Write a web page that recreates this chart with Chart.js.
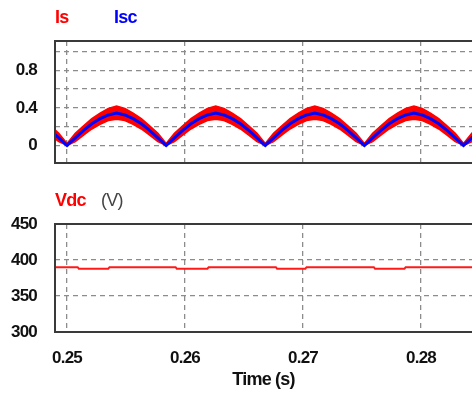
<!DOCTYPE html>
<html>
<head>
<meta charset="utf-8">
<script src="https://cdn.jsdelivr.net/npm/chart.js@4.4.1/dist/chart.umd.min.js"></script>
<style>
  html, body { margin: 0; padding: 0; background: #fff; }
  #wrap { position: relative; width: 472px; height: 395px; overflow: hidden; font-family: "Liberation Sans", Arial, sans-serif; }
  canvas { position: absolute; left: 0; }
  #currentChart { top: 0; }
  #voltageChart { top: 180px; }
  .lbl { position: absolute; font-size: 18px; line-height: 18px; font-weight: bold; letter-spacing: -0.8px; white-space: nowrap; }
</style>
</head>
<body>
<div id="wrap">
  <canvas id="currentChart" width="472" height="180"></canvas>
  <canvas id="voltageChart" width="472" height="215"></canvas>
  <span class="lbl" style="left:55px;top:8px;color:#ff0000">Is</span>
  <span class="lbl" style="left:114px;top:8px;color:#0000ff">Isc</span>
  <span class="lbl" style="left:55px;top:191px;color:#ff0000">Vdc</span>
  <span class="lbl" style="left:101px;top:191px;color:#444;font-weight:normal">(V)</span>
</div>
<script>
'use strict';

// temps (s), un point toutes les 0,7 ms
var timeValues = [
  0.2486, 0.2493, 0.2500, 0.2507, 0.2514, 0.2521, 0.2528, 0.2535, 0.2542, 0.2549, 0.2556, 0.2563, 0.2570, 0.2577, 0.2584,
  0.2591, 0.2598, 0.2605, 0.2612, 0.2619, 0.2626, 0.2633, 0.2640, 0.2647, 0.2654, 0.2661, 0.2668,
  0.2675, 0.2682, 0.2689, 0.2696, 0.2703, 0.2710, 0.2717, 0.2724, 0.2731, 0.2738, 0.2745, 0.2752,
  0.2759, 0.2766, 0.2773, 0.2780, 0.2787, 0.2794, 0.2801, 0.2808, 0.2815, 0.2822, 0.2829, 0.2836,
  0.2843, 0.2850
];

// Isc (courant moyen, bleu)
var iscValues = [
  0.16, 0.08, 0,
  0.08, 0.16, 0.23, 0.285, 0.325, 0.345, 0.325, 0.285, 0.23, 0.16, 0.08, 0,
  0.08, 0.16, 0.23, 0.285, 0.325, 0.345, 0.325, 0.285, 0.23, 0.16, 0.08, 0,
  0.08, 0.16, 0.23, 0.285, 0.325, 0.345, 0.325, 0.285, 0.23, 0.16, 0.08, 0,
  0.08, 0.16, 0.23, 0.285, 0.325, 0.345, 0.325, 0.285, 0.23, 0.16, 0.08, 0,
  0.08, 0.16
];

// Is : enveloppe haute / basse de l'ondulation (bande rouge)
var isHighValues = [
  0.21, 0.13, 0.02,
  0.13, 0.21, 0.285, 0.345, 0.395, 0.42, 0.395, 0.345, 0.285, 0.21, 0.13, 0.02,
  0.13, 0.21, 0.285, 0.345, 0.395, 0.42, 0.395, 0.345, 0.285, 0.21, 0.13, 0.02,
  0.13, 0.21, 0.285, 0.345, 0.395, 0.42, 0.395, 0.345, 0.285, 0.21, 0.13, 0.02,
  0.13, 0.21, 0.285, 0.345, 0.395, 0.42, 0.395, 0.345, 0.285, 0.21, 0.13, 0.02,
  0.13, 0.21
];
var isLowValues = [
  0.11, 0.04, 0,
  0.04, 0.11, 0.175, 0.225, 0.265, 0.28, 0.265, 0.225, 0.175, 0.11, 0.04, 0,
  0.04, 0.11, 0.175, 0.225, 0.265, 0.28, 0.265, 0.225, 0.175, 0.11, 0.04, 0,
  0.04, 0.11, 0.175, 0.225, 0.265, 0.28, 0.265, 0.225, 0.175, 0.11, 0.04, 0,
  0.04, 0.11, 0.175, 0.225, 0.265, 0.28, 0.265, 0.225, 0.175, 0.11, 0.04, 0,
  0.04, 0.11
];

// Vdc (V)
var vdcTimes = [
  0.2486, 0.2509, 0.2510, 0.2535, 0.2536, 0.2592, 0.2593, 0.2619, 0.2620,
  0.2677, 0.2678, 0.2702, 0.2703, 0.2760, 0.2761, 0.2786, 0.2787, 0.2850
];
var vdcValues = [
  390, 390, 388, 388, 390, 390, 388, 388, 390,
  390, 388, 388, 390, 390, 388, 388, 390, 390
];

var timeTicks = [0.25, 0.26, 0.27, 0.28];
var timeTickLabels = ['0.25', '0.26', '0.27', '0.28'];
var currentTicks = [0, 0.2, 0.4, 0.6, 0.8, 1.0];
var currentTickLabels = ['0', '', '0.4', '', '0.8', ''];
var voltageTicks = [300, 350, 400, 450];
var voltageTickLabels = ['300', '350', '400', '450'];

var tickFont = { family: '"Liberation Sans", Arial, sans-serif', size: 17, weight: 'bold' };
var gridColor = '#8c8c8c';

function toPoints(xs, ys) {
  return xs.map(function (x, i) {
    return { x: x, y: ys[i] };
  });
}

function fixedTicks(values) {
  return function (scale) {
    scale.ticks = values.map(function (v) {
      return { value: v };
    });
  };
}

// cadre gauche / haut / bas, comme dans PSIM
var framePlugin = {
  id: 'frame',
  afterDatasetsDraw: function (chart) {
    var a = chart.chartArea;
    var ctx = chart.ctx;
    ctx.save();
    ctx.strokeStyle = '#3a3a3a';
    ctx.lineWidth = 2;
    ctx.beginPath();
    ctx.moveTo(a.right + 2, a.top);
    ctx.lineTo(a.left, a.top);
    ctx.lineTo(a.left, a.bottom);
    ctx.lineTo(a.right + 2, a.bottom);
    ctx.stroke();
    ctx.restore();
  }
};

function tighten(chart) {
  chart.ctx.letterSpacing = '-0.8px';
}
var tightTextPlugin = { id: 'tightText', beforeUpdate: tighten, beforeDraw: tighten };

function timeAxis(showLabels, height) {
  return {
    type: 'linear',
    min: 0.24898,
    max: 0.28432,
    afterBuildTicks: fixedTicks(timeTicks),
    afterFit: function (scale) {
      scale.height = height;
      scale.paddingLeft = 0;
      scale.paddingRight = 0;
    },
    grid: { color: gridColor, lineWidth: 1.3, drawTicks: false },
    border: { display: false, dash: [5, 4] },
    ticks: {
      display: showLabels,
      padding: 16,
      color: '#111',
      font: tickFont,
      maxRotation: 0,
      callback: function (value, index) { return timeTickLabels[index]; }
    },
    title: {
      display: showLabels,
      text: 'Time (s)',
      color: '#111',
      font: { family: '"Liberation Sans", Arial, sans-serif', size: 18, weight: 'bold' },
      padding: { top: 0, bottom: 4 }
    }
  };
}

function valueAxis(min, max, ticks, labels, hiddenGrid) {
  return {
    min: min,
    max: max,
    afterBuildTicks: fixedTicks(ticks),
    afterFit: function (scale) {
      scale.width = 55;
      scale.paddingTop = 0;
      scale.paddingBottom = 0;
    },
    grid: {
      drawTicks: false,
      lineWidth: 1.3,
      color: function (ctx) {
        return hiddenGrid.indexOf(ctx.tick && ctx.tick.value) >= 0 ? 'rgba(0,0,0,0)' : gridColor;
      }
    },
    border: { display: false, dash: [5, 4] },
    ticks: {
      padding: 18,
      color: '#111',
      font: tickFont,
      callback: function (value, index) { return labels[index]; }
    }
  };
}

var commonOptions = {
  animation: false,
  responsive: false,
  events: [],
  elements: { point: { radius: 0 }, line: { tension: 0 } },
  plugins: { legend: { display: false }, tooltip: { enabled: false } }
};

// Courants Is / Isc
new Chart(document.getElementById('currentChart'), {
  type: 'line',
  data: {
    datasets: [{
      label: 'Isc',
      data: toPoints(timeValues, iscValues),
      borderColor: '#0000ff',
      borderWidth: 3,
      fill: false
    }, {
      label: 'Is',
      data: toPoints(timeValues, isHighValues),
      borderColor: '#ff0000',
      backgroundColor: '#ff0000',
      borderWidth: 1.5,
      fill: '+1'
    }, {
      label: 'Is (bas)',
      data: toPoints(timeValues, isLowValues),
      borderColor: '#ff0000',
      borderWidth: 1.5,
      fill: false
    }]
  },
  options: Object.assign({}, commonOptions, {
    layout: { padding: { top: 41, bottom: 17, left: 0, right: 0 } },
    scales: {
      x: timeAxis(false, 0),
      y: valueAxis(-0.187, 1.112, currentTicks, currentTickLabels, [])
    }
  }),
  plugins: [tightTextPlugin, framePlugin]
});

// Tension du bus continu
new Chart(document.getElementById('voltageChart'), {
  type: 'line',
  data: {
    datasets: [{
      label: 'Vdc',
      data: toPoints(vdcTimes, vdcValues),
      borderColor: '#ff1a1a',
      borderWidth: 2,
      fill: false
    }]
  },
  options: Object.assign({}, commonOptions, {
    layout: { padding: { top: 44, bottom: 0, left: 0, right: 0 } },
    scales: {
      x: timeAxis(true, 63),
      y: valueAxis(300, 450, voltageTicks, voltageTickLabels, [300, 450])
    }
  }),
  plugins: [tightTextPlugin, framePlugin]
});
</script>
</body>
</html>
